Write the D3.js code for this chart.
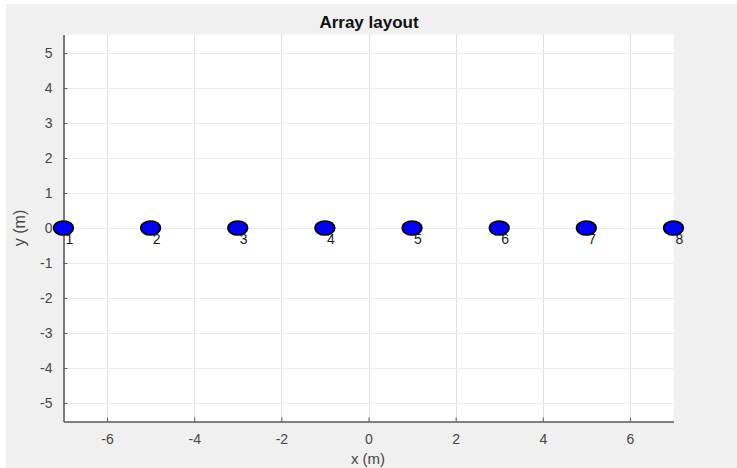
<!DOCTYPE html>
<html>
<head>
<meta charset="utf-8">
<script src="https://cdn.jsdelivr.net/npm/d3@7"></script>
<style>
  html, body { margin: 0; padding: 0; background: #ffffff; }
  svg { display: block; font-family: "Liberation Sans", Arial, Helvetica, sans-serif; }
</style>
</head>
<body>
<svg id="chart" width="737" height="468"></svg>
<script>
// Element positions along the array (metres)
const elementX = [-7, -5, -3, -1, 1, 3, 5, 7];
const elementY = [0, 0, 0, 0, 0, 0, 0, 0];
const elementLabels = ["1", "2", "3", "4", "5", "6", "7", "8"];

// Axis ticks
const xTicks = [-6, -4, -2, 0, 2, 4, 6];
const yTicks = [-5, -4, -3, -2, -1, 0, 1, 2, 3, 4, 5];
const xDomain = [-7, 7];
const yDomain = [-5.53, 5.53];

const svg = d3.select("#chart");
const W = 737, H = 468;
const plot = { left: 63.5, right: 673.5, top: 34.5, bottom: 421.5 };

// figure background
svg.append("rect").attr("x", 6).attr("y", 4).attr("width", W - 6).attr("height", H - 4)
  .attr("fill", "#f0f0f0");

// axes area
svg.append("rect")
  .attr("x", plot.left).attr("y", plot.top)
  .attr("width", plot.right - plot.left).attr("height", plot.bottom - plot.top)
  .attr("fill", "#ffffff");

const x = d3.scaleLinear().domain(xDomain).range([plot.left, plot.right]);
const y = d3.scaleLinear().domain(yDomain).range([plot.bottom, plot.top]);

// grid
const grid = svg.append("g").attr("stroke-width", 1);
grid.selectAll(".gx").data(xTicks).join("line")
  .attr("stroke", "#e0e0e0")
  .attr("x1", d => Math.round(x(d)) + 0.5).attr("x2", d => Math.round(x(d)) + 0.5)
  .attr("y1", plot.top).attr("y2", plot.bottom);
grid.selectAll(".gy").data(yTicks).join("line")
  .attr("stroke", "#ebebeb")
  .attr("y1", d => Math.round(y(d)) + 0.5).attr("y2", d => Math.round(y(d)) + 0.5)
  .attr("x1", plot.left).attr("x2", plot.right);

// axes with inward ticks
const minus = d => d < 0 ? "-" + Math.abs(d) : String(d);
const xAxis = d3.axisBottom(x).tickValues(xTicks).tickSizeInner(-4).tickSizeOuter(0).tickPadding(13)
  .tickFormat(minus);
const yAxis = d3.axisLeft(y).tickValues(yTicks).tickSizeInner(-4).tickSizeOuter(0).tickPadding(11)
  .tickFormat(minus);

const gx = svg.append("g").attr("transform", `translate(0,${plot.bottom})`).call(xAxis);
const gy = svg.append("g").attr("transform", `translate(${plot.left},0)`).call(yAxis);

[gx, gy].forEach(g => {
  g.select(".domain").attr("stroke", "#5a5a5a").attr("stroke-width", 1.6);
  g.selectAll(".tick line").attr("stroke", "#5a5a5a");
  g.selectAll(".tick text").attr("fill", "#454545").attr("font-size", 14)
    .attr("font-family", "'Liberation Sans', Arial, sans-serif");
});

// title and axis labels
svg.append("text").attr("x", 369).attr("y", 28).attr("text-anchor", "middle")
  .attr("font-size", 17).attr("font-weight", "bold").attr("fill", "#111")
  .text("Array layout");
svg.append("text").attr("x", 368).attr("y", 464).attr("text-anchor", "middle")
  .attr("font-size", 15).attr("fill", "#454545").text("x (m)");
svg.append("text").attr("transform", `translate(25,${y(0)}) rotate(-90)`)
  .attr("text-anchor", "middle").attr("font-size", 16).attr("fill", "#454545").text("y (m)");

// array elements
const pts = elementX.map((v, i) => ({ x: v, y: elementY[i], label: elementLabels[i] }));
svg.append("g").selectAll("ellipse").data(pts).join("ellipse")
  .attr("cx", d => x(d.x)).attr("cy", d => y(d.y))
  .attr("rx", 9.8).attr("ry", 7)
  .attr("fill", "#0000ff").attr("stroke", "#000").attr("stroke-width", 1.7);

svg.append("g").selectAll("text").data(pts).join("text")
  .attr("x", d => x(d.x) + 2).attr("y", d => y(d.y) + 16)
  .attr("font-size", 14).attr("fill", "#1a1a1a")
  .text(d => d.label);
</script>
</body>
</html>
